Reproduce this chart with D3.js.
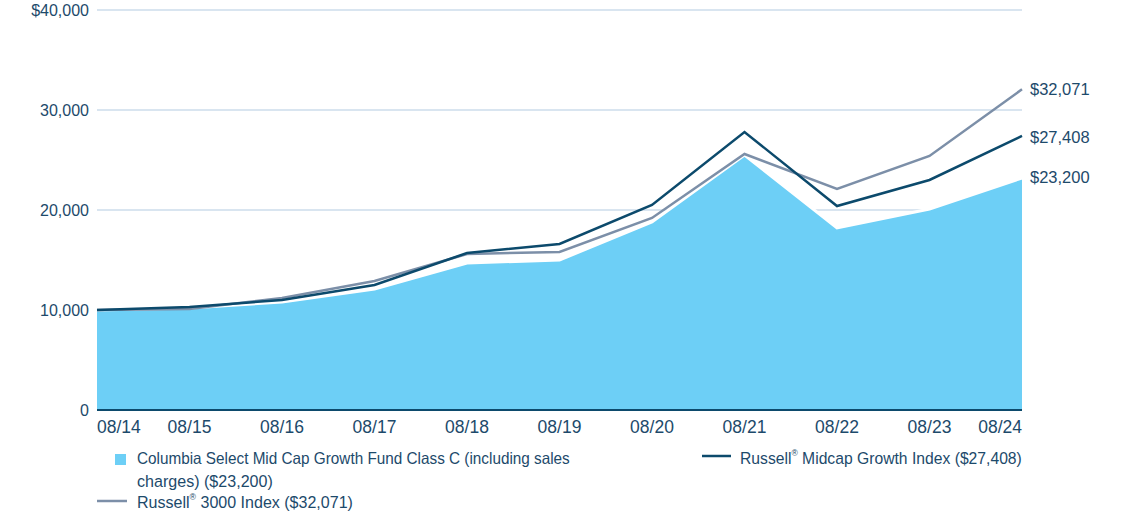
<!DOCTYPE html>
<html><head><meta charset="utf-8">
<script src="https://cdn.jsdelivr.net/npm/d3@7"></script>
<style>
body{margin:0;background:#fff;}
svg{display:block;}
text{font-family:"Liberation Sans",Arial,sans-serif;}
</style></head>
<body><svg id="c" width="1121" height="515"></svg>
<script>
const categories=["08/14","08/15","08/16","08/17","08/18","08/19","08/20","08/21","08/22","08/23","08/24"];
const fundValues=[10000,10200,10800,12100,14700,15000,18800,25500,18200,20100,23200];
const midcapValues=[10000,10300,11000,12500,15700,16600,20500,27800,20400,23000,27408];
const r3000Values=[10000,10100,11200,12900,15600,15800,19200,25600,22100,25400,32071];
const yTicks=[0,10000,20000,30000,40000];
const yTickLabels=["0","10,000","20,000","30,000","$40,000"];
const endLabels=["$32,071","$27,408","$23,200"];
const legendFund=["Columbia Select Mid Cap Growth Fund Class C (including sales","charges) ($23,200)"];

const textColor="#1d4a6b", areaColor="#6dcff6", darkLine="#0c4a6c", greyLine="#7c8fa8", gridColor="#cddceb";
const svg=d3.select("#c");
const x=d3.scalePoint().domain(categories).range([97,1022]);
const y=d3.scaleLinear().domain([0,40000]).range([410,10]);

// grid
svg.append("g").selectAll("line").data(yTicks.filter(d=>d>0)).join("line")
 .attr("x1",97).attr("x2",1022).attr("y1",d=>y(d)).attr("y2",d=>y(d))
 .attr("stroke",gridColor).attr("stroke-width",1.5);

// area
const area=d3.area().x((d,i)=>x(categories[i])).y0(y(0)).y1(d=>y(d));
svg.append("path").datum(fundValues).attr("d",area).attr("fill",areaColor);
const line=d3.line().x((d,i)=>x(categories[i])).y(d=>y(d));
svg.append("path").datum(fundValues).attr("d",line).attr("fill","none").attr("stroke","#fff").attr("stroke-width",3);

svg.append("path").datum(r3000Values).attr("d",line).attr("fill","none").attr("stroke",greyLine).attr("stroke-width",2.5);
svg.append("path").datum(midcapValues).attr("d",line).attr("fill","none").attr("stroke",darkLine).attr("stroke-width",2.5);

// bottom axis line
svg.append("line").attr("x1",97).attr("x2",1022).attr("y1",410).attr("y2",410).attr("stroke",darkLine).attr("stroke-width",2);

// y labels
svg.append("g").selectAll("text").data(yTicks).join("text")
 .attr("x",89).attr("y",d=>y(d)).attr("dy","0.35em").attr("text-anchor","end")
 .attr("fill",textColor).attr("font-size",16).text((d,i)=>yTickLabels[i]);

// x labels
svg.append("g").selectAll("text").data(categories).join("text")
 .attr("x",d=>x(d)).attr("y",433)
 .attr("text-anchor",(d,i)=>i===0?"start":(i===categories.length-1?"end":"middle"))
 .attr("fill",textColor).attr("font-size",17.5).text(d=>d);

// end labels
const lastVals=[r3000Values[10],midcapValues[10],fundValues[10]];
svg.append("g").selectAll("text").data(lastVals).join("text")
 .attr("x",1030).attr("y",(d,i)=>[89,137,177][i]).attr("dy","0.35em")
 .attr("fill",textColor).attr("font-size",16.5).text((d,i)=>endLabels[i]);

// legend
function fit(sel,x0,w){
  const bw=sel.node().getBBox().width;
  sel.attr("transform",`translate(${x0},0) scale(${w/bw},1) translate(${-x0},0)`);
}
const lg=svg.append("g").attr("fill",textColor).attr("font-size",16.5);
lg.append("rect").attr("x",115).attr("y",454).attr("width",11).attr("height",11).attr("fill",areaColor);
fit(lg.append("text").attr("x",137).attr("y",464).text(legendFund[0]),137,433);
fit(lg.append("text").attr("x",137).attr("y",487).text(legendFund[1]),137,136);
lg.append("line").attr("x1",97).attr("x2",127).attr("y1",501).attr("y2",501).attr("stroke",greyLine).attr("stroke-width",2.5);
const t3=lg.append("text").attr("x",137).attr("y",508);
t3.append("tspan").text("Russell");
t3.append("tspan").attr("font-size",9).attr("dy",-8).text("®");
t3.append("tspan").attr("dy",8).text(" 3000 Index ($32,071)");
fit(t3,137,216);
lg.append("line").attr("x1",702).attr("x2",731).attr("y1",456).attr("y2",456).attr("stroke",darkLine).attr("stroke-width",2.5);
const t4=lg.append("text").attr("x",740).attr("y",464);
t4.append("tspan").text("Russell");
t4.append("tspan").attr("font-size",9).attr("dy",-8).text("®");
t4.append("tspan").attr("dy",8).text(" Midcap Growth Index ($27,408)");
fit(t4,740,282);
</script></body></html>
